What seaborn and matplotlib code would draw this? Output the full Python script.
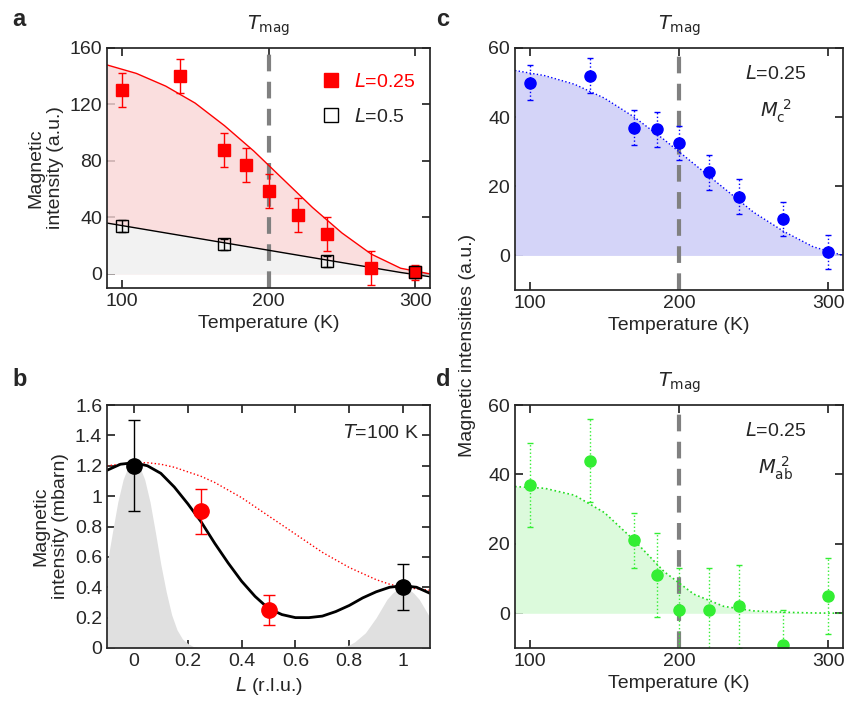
import numpy as np
import matplotlib
matplotlib.use("Agg")
import matplotlib.pyplot as plt
from matplotlib.lines import Line2D
import seaborn as sns

sns.set_theme(style="ticks")
plt.rcParams['font.family'] = ['Liberation Sans', 'DejaVu Sans']
plt.rcParams.update({'font.size': 14, 'axes.labelsize': 14, 'xtick.labelsize': 14,
                     'ytick.labelsize': 14, 'legend.fontsize': 14})

# panel a
t_red = [100, 140, 170, 185, 200, 220, 240, 270, 300]
i_red = [130, 140, 88, 77, 59, 42, 28, 4, 1]
e_red = [12, 12, 12, 12, 12, 12, 12, 12, 5]
t_blk = [100, 170, 240, 300]
i_blk = [34, 21, 9, 1]
e_blk = [4, 4, 4, 4]
fit_a_t = [90, 110, 130, 150, 170, 190, 210, 230, 250, 270, 290, 310]
fit_a_red = [148, 142, 133, 121, 105, 87, 67, 47, 29, 14, 4, 0]
fit_a_blk = [36, 32.5, 29, 25.5, 22, 18.5, 15, 11.5, 8, 4.5, 1, -2]

# panel b
L_blk = [0, 1]
m_blk = [1.2, 0.4]
e_bb = [0.3, 0.15]
L_red = [0.25, 0.5]
m_red = [0.9, 0.25]
e_br = [0.15, 0.1]
curve_L = [-0.1, -0.05, 0, 0.05, 0.1, 0.15, 0.2, 0.25, 0.3, 0.35, 0.4, 0.45, 0.5, 0.55, 0.6,
           0.65, 0.7, 0.75, 0.8, 0.85, 0.9, 0.95, 1.0, 1.05, 1.1]
curve_blk = [1.17, 1.21, 1.22, 1.2, 1.15, 1.06, 0.95, 0.83, 0.69, 0.56, 0.44, 0.34, 0.26, 0.22, 0.2,
             0.2, 0.21, 0.24, 0.28, 0.33, 0.37, 0.4, 0.41, 0.4, 0.36]
curve_red = [1.2, 1.21, 1.22, 1.22, 1.21, 1.19, 1.16, 1.13, 1.09, 1.04, 0.99, 0.93, 0.87, 0.81, 0.75,
             0.69, 0.63, 0.58, 0.53, 0.49, 0.45, 0.42, 0.4, 0.39, 0.38]
gray_L = [-0.1, -0.08, -0.06, -0.04, -0.02, 0, 0.02, 0.04, 0.06, 0.08, 0.1, 0.12, 0.14, 0.16, 0.18, 0.2,
          0.22, 0.25, 0.75, 0.78, 0.8, 0.82, 0.84, 0.86, 0.88, 0.9, 0.92, 0.94, 0.96, 0.98, 1.0,
          1.02, 1.04, 1.06, 1.08, 1.1]
gray_peak = [0.55, 0.76, 0.96, 1.11, 1.2, 1.22, 1.2, 1.11, 0.96, 0.76, 0.55, 0.37, 0.22, 0.12, 0.06, 0.03,
             0.01, 0.0, 0.0, 0.01, 0.02, 0.04, 0.07, 0.1, 0.15, 0.2, 0.26, 0.32, 0.36, 0.39, 0.4,
             0.39, 0.36, 0.32, 0.26, 0.2]

# panel c
t_c = [100, 140, 170, 185, 200, 220, 240, 270, 300]
i_c = [50, 52, 37, 36.5, 32.5, 24, 17, 10.5, 1]
e_c = [5, 5, 5, 5, 5, 5, 5, 5, 5]
fit_c = [53.5, 52, 49.5, 45.5, 40, 33.5, 26.5, 19.5, 12.5, 7, 2.5, 0]

# panel d
t_d = [100, 140, 170, 185, 200, 220, 240, 270, 300]
i_d = [37, 44, 21, 11, 1, 1, 2, -9, 5]
e_d = [12, 12, 8, 12, 12, 12, 12, 10, 11]
fit_d = [36.5, 36, 34, 29, 21, 12, 5.5, 2, 0.7, 0.3, 0.1, 0]

W, H = 844, 702
fig = plt.figure(figsize=(W / 100, H / 100), dpi=100)

def box(l, t, r, b):
    return [l / W, 1 - b / H, (r - l) / W, (b - t) / H]

ax_a = fig.add_axes(box(107, 48, 430, 288))
ax_c = fig.add_axes(box(515, 48, 843, 290))
ax_b = fig.add_axes(box(107, 405, 430, 648))
ax_d = fig.add_axes(box(515, 405, 843, 648))

def temp_axis(ax, ylim, yticks):
    ax.set_xlim(90, 310)
    ax.set_ylim(*ylim)
    ax.set_xticks([100, 200, 300])
    ax.set_yticks(yticks)
    ax.set_xlabel("Temperature (K)")
    ax.axvline(200, color="#808080", ls="--", lw=3, dashes=(4, 2.5), zorder=1)
    ax.text(200, ylim[1] + (ylim[1] - ylim[0]) * 0.04, r"$T_{\rm mag}$", ha="center", va="bottom", fontsize=14)
    ax.tick_params(direction="in", top=True, right=True)

# a
ax = ax_a
ax.fill_between(fit_a_t, fit_a_red, color="#f9d6d6", alpha=0.8, lw=0)
ax.fill_between(fit_a_t, fit_a_blk, color="#f2f2f2", lw=0)
sns.lineplot(x=fit_a_t, y=fit_a_red, ax=ax, color="red", lw=1)
sns.lineplot(x=fit_a_t, y=fit_a_blk, ax=ax, color="black", lw=1)
ax.errorbar(t_red, i_red, yerr=e_red, fmt="s", color="red", ms=8, capsize=3, elinewidth=1)
ax.errorbar(t_blk, i_blk, yerr=e_blk, fmt="s", mfc="none", mec="black", color="black", ms=8,
            capsize=3, elinewidth=1)
temp_axis(ax, (-10, 160), [0, 40, 80, 120, 160])
ax.set_ylabel("Magnetic\nintensity (a.u.)")
handles = [Line2D([], [], ls="none", marker="s", color="red", ms=10),
           Line2D([], [], ls="none", marker="s", mfc="none", mec="black", ms=10)]
leg = ax.legend(handles, ["$L$=0.25", "$L$=0.5"], loc="upper right", frameon=False,
                handletextpad=0.2, bbox_to_anchor=(1.01, 0.97), labelspacing=0.9)
leg.get_texts()[0].set_color("red")

# c
ax = ax_c
ax.fill_between(fit_a_t, fit_c, color="#d4d4f8", lw=0)
ax.plot(fit_a_t, fit_c, color="blue", ls=":", lw=1)
ax.errorbar(t_c, i_c, yerr=e_c, fmt="o", color="blue", ms=8, capsize=2, elinewidth=1)
temp_axis(ax, (-10, 60), [0, 20, 40, 60])
ax.text(265, 51, "$L$=0.25", ha="center")
ax.text(265, 40, r"$M_{\rm c}^{\ 2}$", ha="center")

# d
ax = ax_d
ax.fill_between(fit_a_t, fit_d, color="#dcfadc", lw=0)
ax.plot(fit_a_t, fit_d, color="#22dd22", ls=":", lw=1.2)
ax.errorbar(t_d, i_d, yerr=e_d, fmt="o", color="#33ee33", ms=8, capsize=2, elinewidth=1)
temp_axis(ax, (-10, 60), [0, 20, 40, 60])
ax.text(265, 51, "$L$=0.25", ha="center")
ax.text(265, 40, r"$M_{\rm ab}^{\ 2}$", ha="center")

for a in (ax_c, ax_d):
    for c in a.containers:
        for ln in c.lines[2]:
            ln.set_linestyle(":")

fig.text(468 / W, 1 - 345 / H, "Magnetic intensities (a.u.)", rotation=90, ha="center", va="center")

# b
ax = ax_b
ax.fill_between(gray_L, gray_peak, color="#e0e0e0", lw=0)
ax.plot(curve_L, curve_red, color="red", ls=":", lw=1)
sns.lineplot(x=curve_L, y=curve_blk, ax=ax, color="black", lw=2)
ax.errorbar(L_blk, m_blk, yerr=e_bb, fmt="o", color="black", ms=11, capsize=4, elinewidth=1)
ax.errorbar(L_red, m_red, yerr=e_br, fmt="o", color="red", ms=11, capsize=4, elinewidth=1)
ax.set_xlim(-0.1, 1.1)
ax.set_ylim(0, 1.6)
ax.set_xticks([0, 0.2, 0.4, 0.6, 0.8, 1])
ax.set_xticklabels(["0", "0.2", "0.4", "0.6", "0.8", "1"])
ax.set_yticks([0, 0.2, 0.4, 0.6, 0.8, 1, 1.2, 1.4, 1.6])
ax.set_yticklabels(["0", "0.2", "0.4", "0.6", "0.8", "1", "1.2", "1.4", "1.6"])
ax.tick_params(direction="in", top=True, right=True)
ax.set_xlabel("$L$ (r.l.u.)")
ax.set_ylabel("Magnetic\nintensity (mbarn)")
ax.text(1.06, 1.38, "$T$=100 K", ha="right")

for lab, x, y in (("a", 12, 8), ("c", 436, 8), ("b", 12, 368), ("d", 436, 368)):
    fig.text(x / W, 1 - y / H, lab, fontsize=17, fontweight="bold", va="top")

fig.savefig("out.png", dpi=100)
